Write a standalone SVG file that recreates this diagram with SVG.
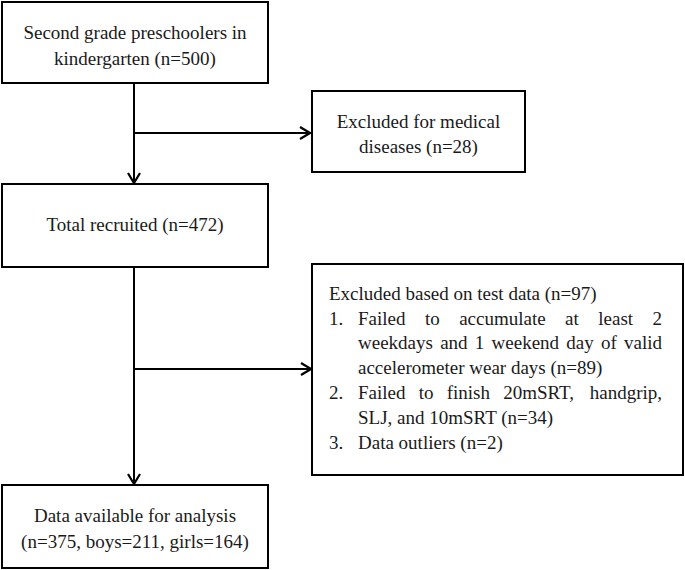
<svg xmlns="http://www.w3.org/2000/svg" width="685" height="570" viewBox="0 0 685 570">
<defs>
<style>
.box{fill:#fff;stroke:#000;stroke-width:2}
.t{font-family:"Liberation Serif","Times New Roman",serif;font-size:19px;fill:#1a1a1a}
.c{text-anchor:middle}
.ln{fill:none;stroke:#000;stroke-width:2}
</style>
<marker id="ah" viewBox="0 0 12 14" refX="11" refY="7" markerWidth="12" markerHeight="14" markerUnits="userSpaceOnUse" orient="auto">
<path d="M1,1 L11,7 L1,13" fill="none" stroke="#000" stroke-width="2.2"/>
</marker>
</defs>
<rect width="685" height="570" fill="#fff"/>
<g id="connectors">
<line class="ln" x1="134" y1="83" x2="134" y2="183" marker-end="url(#ah)"/>
<line class="ln" x1="134" y1="133" x2="310" y2="133" marker-end="url(#ah)"/>
<line class="ln" x1="134" y1="267" x2="134" y2="484" marker-end="url(#ah)"/>
<line class="ln" x1="134" y1="369" x2="311" y2="369" marker-end="url(#ah)"/>
</g>
<g id="n1">
<rect class="box" x="2" y="2" width="266" height="81"/>
<text class="t c" x="135" y="39">Second grade preschoolers in</text>
<text class="t c" x="135" y="65">kindergarten (n=500)</text>
</g>
<g id="n2">
<rect class="box" x="312" y="91" width="213" height="81"/>
<text class="t c" x="418.5" y="128">Excluded for medical</text>
<text class="t c" x="418.5" y="153">diseases (n=28)</text>
</g>
<g id="n3">
<rect class="box" x="2" y="184" width="266" height="83"/>
<text class="t c" x="135" y="231">Total recruited (n=472)</text>
</g>
<g id="n4">
<rect class="box" x="312" y="264" width="371" height="211"/>
<text class="t" x="329" y="300">Excluded based on test data (n=97)</text>
<text class="t" x="329" y="324.5">1.</text>
<text class="t" y="324.5"><tspan x="358">Failed</tspan><tspan x="424.9">to</tspan><tspan x="459.2">accumulate</tspan><tspan x="565.1">at</tspan><tspan x="598.3">least</tspan><tspan x="652.5">2</tspan></text>
<text class="t" y="349"><tspan x="358">weekdays</tspan><tspan x="440.2">and</tspan><tspan x="474.8">1</tspan><tspan x="491.6">weekend</tspan><tspan x="566.3">day</tspan><tspan x="601">of</tspan><tspan x="624">valid</tspan></text>
<text class="t" x="358" y="374">accelerometer wear days (n=89)</text>
<text class="t" x="329" y="399">2.</text>
<text class="t" y="399"><tspan x="358">Failed</tspan><tspan x="418.7">to</tspan><tspan x="446.7">finish</tspan><tspan x="503.2">20mSRT,</tspan><tspan x="589.8">handgrip,</tspan></text>
<text class="t" x="358" y="424">SLJ, and 10mSRT (n=34)</text>
<text class="t" x="329" y="449">3.</text>
<text class="t" x="358" y="449">Data outliers (n=2)</text>
</g>
<g id="n5">
<rect class="box" x="2" y="485" width="266" height="83"/>
<text class="t c" x="135" y="522">Data available for analysis</text>
<text class="t c" x="135" y="548">(n=375, boys=211, girls=164)</text>
</g>
</svg>
